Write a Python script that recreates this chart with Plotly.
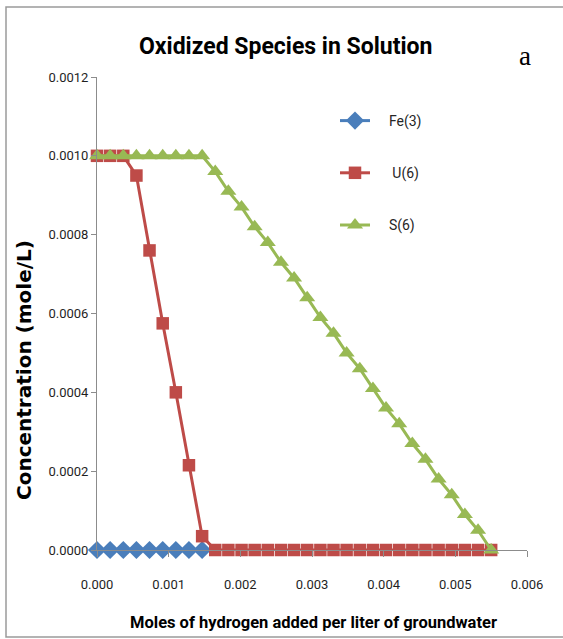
import plotly.graph_objects as go

# x positions (moles H2 per liter), equal steps
x_all = [0.0, 0.000183, 0.000367, 0.00055, 0.000733, 0.000917, 0.0011, 0.001283,
         0.001467, 0.00165, 0.001833, 0.002017, 0.0022, 0.002383, 0.002567, 0.00275,
         0.002933, 0.003117, 0.0033, 0.003483, 0.003667, 0.00385, 0.004033, 0.004217,
         0.0044, 0.004583, 0.004767, 0.00495, 0.005133, 0.005317, 0.0055]

fe3_x = x_all[:9]
fe3_y = [0, 0, 0, 0, 0, 0, 0, 0, 0]

u6_x = x_all
u6_y = [0.001, 0.001, 0.001, 0.00095, 0.00076, 0.000575, 0.0004, 0.000215, 0.000035,
        0, 0, 0, 0, 0, 0, 0, 0, 0, 0, 0, 0, 0, 0, 0, 0, 0, 0, 0, 0, 0, 0]

s6_x = x_all
s6_y = [0.001, 0.001, 0.001, 0.001, 0.001, 0.001, 0.001, 0.001, 0.001,
        0.00096, 0.00091, 0.00087, 0.00082, 0.00078, 0.00073, 0.00069, 0.00064,
        0.00059, 0.00055, 0.00050, 0.00046, 0.00041, 0.00036, 0.00032, 0.00027,
        0.00023, 0.00018, 0.00014, 0.00009, 0.00005, 0.0]

x_ticks = [0.0, 0.001, 0.002, 0.003, 0.004, 0.005, 0.006]
x_ticktext = ["0.000", "0.001", "0.002", "0.003", "0.004", "0.005", "0.006"]
y_ticks = [0.0, 0.0002, 0.0004, 0.0006, 0.0008, 0.0010, 0.0012]
y_ticktext = ["0.0000", "0.0002", "0.0004", "0.0006", "0.0008", "0.0010", "0.0012"]

NARROW = "Roboto, Liberation Sans, sans-serif"

fig = go.Figure()
fig.add_trace(go.Scatter(x=fe3_x, y=fe3_y, name="\u00a0\u00a0\u00a0\u00a0Fe(3)", mode="lines+markers",
                         legendgroup="a",
                         line=dict(color="#4A7EBB", width=3),
                         marker=dict(symbol="diamond", size=14, color="#4A7EBB"),
                         cliponaxis=False))
fig.add_trace(go.Scatter(x=u6_x, y=u6_y, name="\u00a0\u00a0\u00a0\u00a0\u00a0U(6)", mode="lines+markers",
                         legendgroup="b",
                         line=dict(color="#BE4B48", width=3),
                         marker=dict(symbol="square", size=12.5, color="#BE4B48"),
                         cliponaxis=False))
fig.add_trace(go.Scatter(x=s6_x, y=s6_y, name="\u00a0\u00a0\u00a0\u00a0S(6)", mode="lines+markers",
                         legendgroup="c",
                         line=dict(color="#98B954", width=3),
                         marker=dict(symbol="triangle-up", size=14, color="#98B954"),
                         cliponaxis=False))

W, H = 563, 639
L, R, T, B = 97, 36, 77, 89
pw, ph = W - L - R, H - T - B

def px(xp):
    return (xp - L) / pw

def py(yp):
    return (H - B - yp) / ph

fig.update_layout(
    width=W, height=H,
    margin=dict(l=L, r=R, t=T, b=B),
    paper_bgcolor="white", plot_bgcolor="white",
    font=dict(family=NARROW, color="#262626", size=13),
    showlegend=True,
    legend=dict(x=px(335), y=py(105), xanchor="left", yanchor="top",
                tracegroupgap=31, font=dict(size=14, family=NARROW, color="#262626"),
                bgcolor="rgba(0,0,0,0)", itemwidth=30),
    xaxis=dict(range=[0, 0.006], tickvals=x_ticks, ticktext=x_ticktext,
               showgrid=False, zeroline=False, showline=True, linecolor="#8C8C8C",
               linewidth=1, ticks="outside", ticklen=6, tickcolor="#8C8C8C",
               ticklabelstandoff=16,
               tickfont=dict(size=13, family=NARROW, color="#1F1F1F")),
    yaxis=dict(range=[0, 0.0012], tickvals=y_ticks, ticktext=y_ticktext,
               showgrid=False, zeroline=False, showline=True, linecolor="#8C8C8C",
               linewidth=1, ticks="outside", ticklen=5, tickcolor="#8C8C8C",
               tickfont=dict(size=13, family=NARROW, color="#1F1F1F")),
    shapes=[dict(type="path", xref="paper", yref="paper",
                 path=f"M {px(570)} {py(7)} L {px(6)} {py(7)} L {px(6)} {py(637)} L {px(570)} {py(637)}",
                 line=dict(color="#9A9A9A", width=1.5))],
    annotations=[
        dict(text="<b>Oxidized Species in Solution</b>", xref="paper", yref="paper",
             x=px(285), y=py(47), xanchor="center", yanchor="middle", showarrow=False,
             font=dict(size=23, family=NARROW, color="black")),
        dict(text="a", xref="paper", yref="paper", x=px(525), y=py(56),
             xanchor="center", yanchor="middle", showarrow=False,
             font=dict(size=27, family="Liberation Serif, DejaVu Serif, serif", color="black")),
        dict(text="<b>Concentration (mole/L)</b>", xref="paper", yref="paper",
             x=px(24), y=py(370), xanchor="center", yanchor="middle", showarrow=False,
             textangle=-90,
             font=dict(size=20, family="DejaVu Sans, Verdana, sans-serif", color="black")),
        dict(text="<b>Moles of hydrogen added per liter of groundwater</b>", xref="paper",
             yref="paper", x=px(313), y=py(622), xanchor="center", yanchor="middle",
             showarrow=False, font=dict(size=16.5, family=NARROW, color="black")),
    ],
)

fig.write_html("out.html")
